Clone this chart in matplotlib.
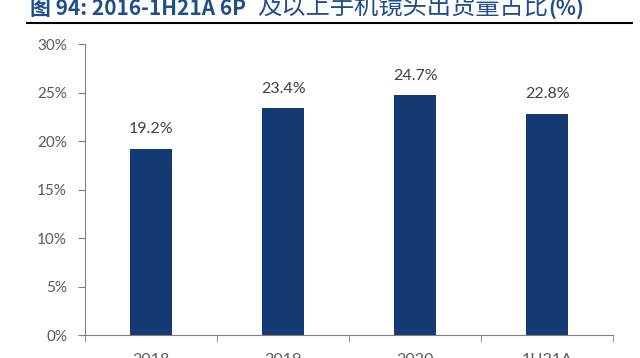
import matplotlib.pyplot as plt
from matplotlib.lines import Line2D

plt.rcParams['font.family'] = ['Lato', 'Noto Sans CJK SC', 'DejaVu Sans']

# 数据
categories = ['2018', '2019', '2020', '1H21A']
shares = [19.2, 23.4, 24.7, 22.8]
labels = ['19.2%', '23.4%', '24.7%', '22.8%']
yticks = [0, 5, 10, 15, 20, 25, 30]

bar_color = '#133A72'
axis_color = '#808080'
text_color = '#595959'
title_color = '#1F4E8C'
cjk = ['Noto Sans CJK SC', 'DejaVu Sans']

fig = plt.figure(figsize=(6.4, 3.58), dpi=100)
ax = fig.add_axes([0.133, 0.064, 0.825, 0.813])

x = range(len(categories))
bars = ax.bar(x, shares, width=0.32, color=bar_color)

for bar, lab in zip(bars, labels):
    ax.annotate(lab, (bar.get_x() + bar.get_width() / 2, bar.get_height()),
                xytext=(0, 9), textcoords='offset points', ha='center', va='bottom',
                fontsize=11.5, color='#404040')

ax.set_xlim(-0.5, len(categories) - 0.5)
ax.set_ylim(0, 30)
ax.set_yticks(yticks)
ax.set_yticklabels([f'{v}%' for v in yticks], fontsize=11, color=text_color)
ax.set_xticks(list(x))
ax.set_xticklabels(categories, fontsize=11.5, color=text_color)
ax.set_xticks([i - 0.5 for i in range(len(categories) + 1)], minor=True)
ax.tick_params(axis='x', which='major', length=0, pad=13)
ax.tick_params(axis='x', which='minor', length=5, color=axis_color, direction='out')
ax.tick_params(axis='y', length=5, color=axis_color, direction='out', pad=8)

for side in ['top', 'right']:
    ax.spines[side].set_visible(False)
for side in ['left', 'bottom']:
    ax.spines[side].set_color(axis_color)

# 标题（上方被裁切）
W, H = 640, 358
ty = 1 - 15 / H
fig.text(30 / W, ty, '图 94: 2016-1H21A 6P', fontsize=15, fontweight='bold',
         color=title_color, va='baseline', ha='left', family=cjk)
t2 = fig.text(257 / W, ty, '及以上手机镜头出货量占比', fontsize=17.5, color=title_color,
              va='baseline', ha='left', family=cjk)
fig.canvas.draw()
x3 = t2.get_window_extent().x1 / fig.bbox.width
fig.text(x3, ty, '(%)', fontsize=15, fontweight='bold', color=title_color,
         va='baseline', ha='left', family=cjk)
fig.add_artist(Line2D([27 / W, 632 / W], [1 - 23 / H, 1 - 23 / H],
                      transform=fig.transFigure, color='black', lw=1.5))

fig.savefig('out.png', dpi=100)
